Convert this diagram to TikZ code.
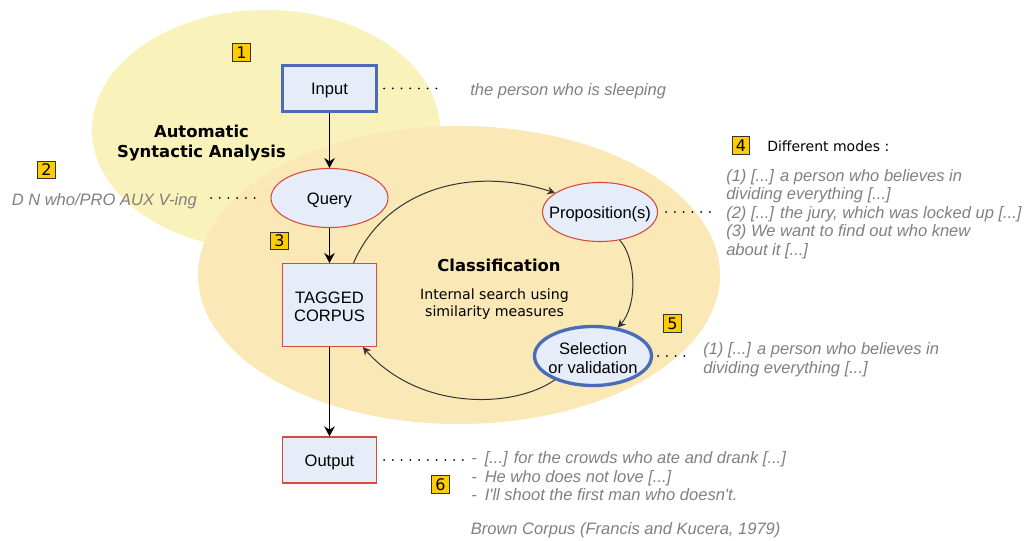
\documentclass[tikz,border=0pt]{standalone}
\usepackage{fontspec}
\setmainfont{Liberation Sans}
\newfontfamily\dejavu{DejaVu Sans}
\usetikzlibrary{shapes.geometric,arrows.meta}
\definecolor{ellA}{RGB}{249,242,187}
\definecolor{ellB}{RGB}{250,233,182}
\definecolor{boxfill}{RGB}{230,236,248}
\definecolor{bluebd}{RGB}{74,108,183}
\definecolor{redbd}{RGB}{214,75,64}
\definecolor{txtgray}{RGB}{128,128,128}
\definecolor{badgey}{RGB}{255,204,0}
\definecolor{curvec}{RGB}{51,51,51}
\tikzset{
  nodefont/.style={font=\fontsize{12.4}{13.9}\selectfont},
  redbox/.style={rectangle, fill=boxfill, draw=redbd, line width=1pt, inner sep=0pt},
  bluebox/.style={rectangle, fill=boxfill, draw=bluebd, line width=2.25pt, inner sep=0pt},
  redell/.style={ellipse, fill=boxfill, draw=redbd, line width=0.8pt, inner sep=0pt},
  blueell/.style={ellipse, fill=boxfill, draw=bluebd, line width=2.5pt, inner sep=0pt},
  lbl/.style={nodefont, align=center, inner sep=0pt, yshift=-1.5pt},
  gtxt/.style={font=\fontsize{12.4}{13.9}\selectfont\itshape, text=txtgray, inner sep=0pt, yshift=-1.5pt},
  dtxt/.style={font=\dejavu\fontsize{10.5}{12.5}\selectfont, inner sep=0pt, yshift=-1pt},
  title/.style={font=\dejavu\bfseries\fontsize{12.3}{15}\selectfont, align=center, inner sep=0pt},
  badge/.style={rectangle, fill=badgey, draw=black!80, line width=0.75pt, minimum size=13pt, inner sep=0pt, font=\dejavu\fontsize{12}{12}\selectfont},
  arr/.style={-{Stealth[length=7.5pt,width=8pt,inset=2.5pt]}, line width=1pt, black},
  carr/.style={-{Stealth[length=6pt,width=6pt,inset=2pt]}, line width=0.75pt, curvec},
  dotline/.style={line width=1.5pt, line cap=round, dash pattern=on 0pt off 6.56pt, black}
}
\begin{document}
\begin{tikzpicture}[x=0.75pt,y=-0.75pt]
\useasboundingbox (0,0) rectangle (1030,541);
% background ellipses
\fill[ellA] (266,130) ellipse [x radius=130.5pt, y radius=90pt];
\fill[ellB] (459,275) ellipse [x radius=195.75pt, y radius=111.75pt];
% titles
\node[title] (auto) at (201.5,143) {Automatic\\Syntactic Analysis};
\node[title] (class) at (499,265) {Classification};
\node[dtxt, align=center, font=\dejavu\fontsize{10.6}{12.5}\selectfont] (internal) at (494.5,302.7) {Internal search using\\similarity measures};
% main nodes
\node[bluebox, minimum width=70.5pt, minimum height=34.5pt, label={[lbl]center:Input}] (input) at (329.5,88.5) {};
\node[redell, minimum width=87.75pt, minimum height=44.25pt, label={[lbl]center:Query}] (query) at (329.5,198) {};
\node[redbox, minimum width=70.5pt, minimum height=62pt, label={[lbl]center:TAGGED\\CORPUS}] (tc) at (329.5,305) {};
\node[redbox, minimum width=70.5pt, minimum height=34.5pt, label={[lbl]center:Output}] (out) at (329.5,460) {};
\node[redell, minimum width=86.25pt, minimum height=44.25pt, label={[lbl]center:Proposition(s)}] (prop) at (600,212) {};
\node[blueell, minimum width=87.75pt, minimum height=44.25pt, label={[lbl]center:Selection\\or validation}] (sel) at (593,356) {};
% straight arrows
\draw[arr] (input) -- (query);
\draw[arr] (query) -- (tc);
\draw[arr] (tc) -- (out);
% cycle curves
\draw[carr] ([xshift=18pt]tc.north) .. controls (385,190) and (470,165) .. (prop.157);
\draw[carr] (prop.305) .. controls (636,258) and (638,305) .. (sel.49);
\draw[carr] (sel.212) .. controls (515,408) and (420,412) .. ([xshift=25pt]tc.south);
% side texts
\node[gtxt, anchor=west] (t1) at (470,89) {the person who is sleeping};
\node[gtxt, anchor=east] (t2) at (197,199) {D N who/PRO AUX V-ing};
\node[dtxt, anchor=west] (modes) at (767,145) {Different modes :};
\node[gtxt, anchor=west, align=left] (t4) at (726,212) {(1) {[...]} a person who believes in\\dividing everything {[...]}\\(2) {[...]} the jury, which was locked up {[...]}\\(3) We want to find out who knew\\about it {[...]}};
\node[gtxt, anchor=west, align=left] (t5) at (703,357.5) {(1) {[...]} a person who believes in\\dividing everything {[...]}};
\node[gtxt, anchor=west, align=left] (t6) at (471,474.5) {-\hspace{6pt}{[...]} for the crowds who ate and drank {[...]}\\-\hspace{6pt}He who does not love {[...]}\\-\hspace{6pt}I\textquotesingle ll shoot the first man who doesn\textquotesingle t.};
\node[gtxt, anchor=west] (brown) at (470.5,528.7) {Brown Corpus (Francis and Kucera, 1979)};
% dotted leaders
\draw[dotline] ([xshift=4.5pt]input.east) -- ([xshift=-18.75pt]t1.west |- input.east);
\draw[dotline] ([xshift=10.5pt]t2.east |- query.west) -- ([xshift=-6pt]query.west);
\draw[dotline] ([xshift=6pt]prop.east) -- ([xshift=-7.5pt]t4.west |- prop.east);
\draw[dotline] ([xshift=3.75pt]sel.east) -- ([xshift=-10.5pt]t5.west |- sel.east);
\draw[dotline] ([xshift=5.25pt]out.east) -- ([xshift=-6pt]t6.west |- out.east);
% badges
\node[badge] (b1) at (241.5,52.5) {1};
\node[badge] (b2) at (46.5,170) {2};
\node[badge] (b3) at (279.5,241) {3};
\node[badge] (b4) at (741,145.5) {4};
\node[badge] (b5) at (672.5,323.5) {5};
\node[badge] (b6) at (440.5,484.5) {6};
\end{tikzpicture}
\end{document}
